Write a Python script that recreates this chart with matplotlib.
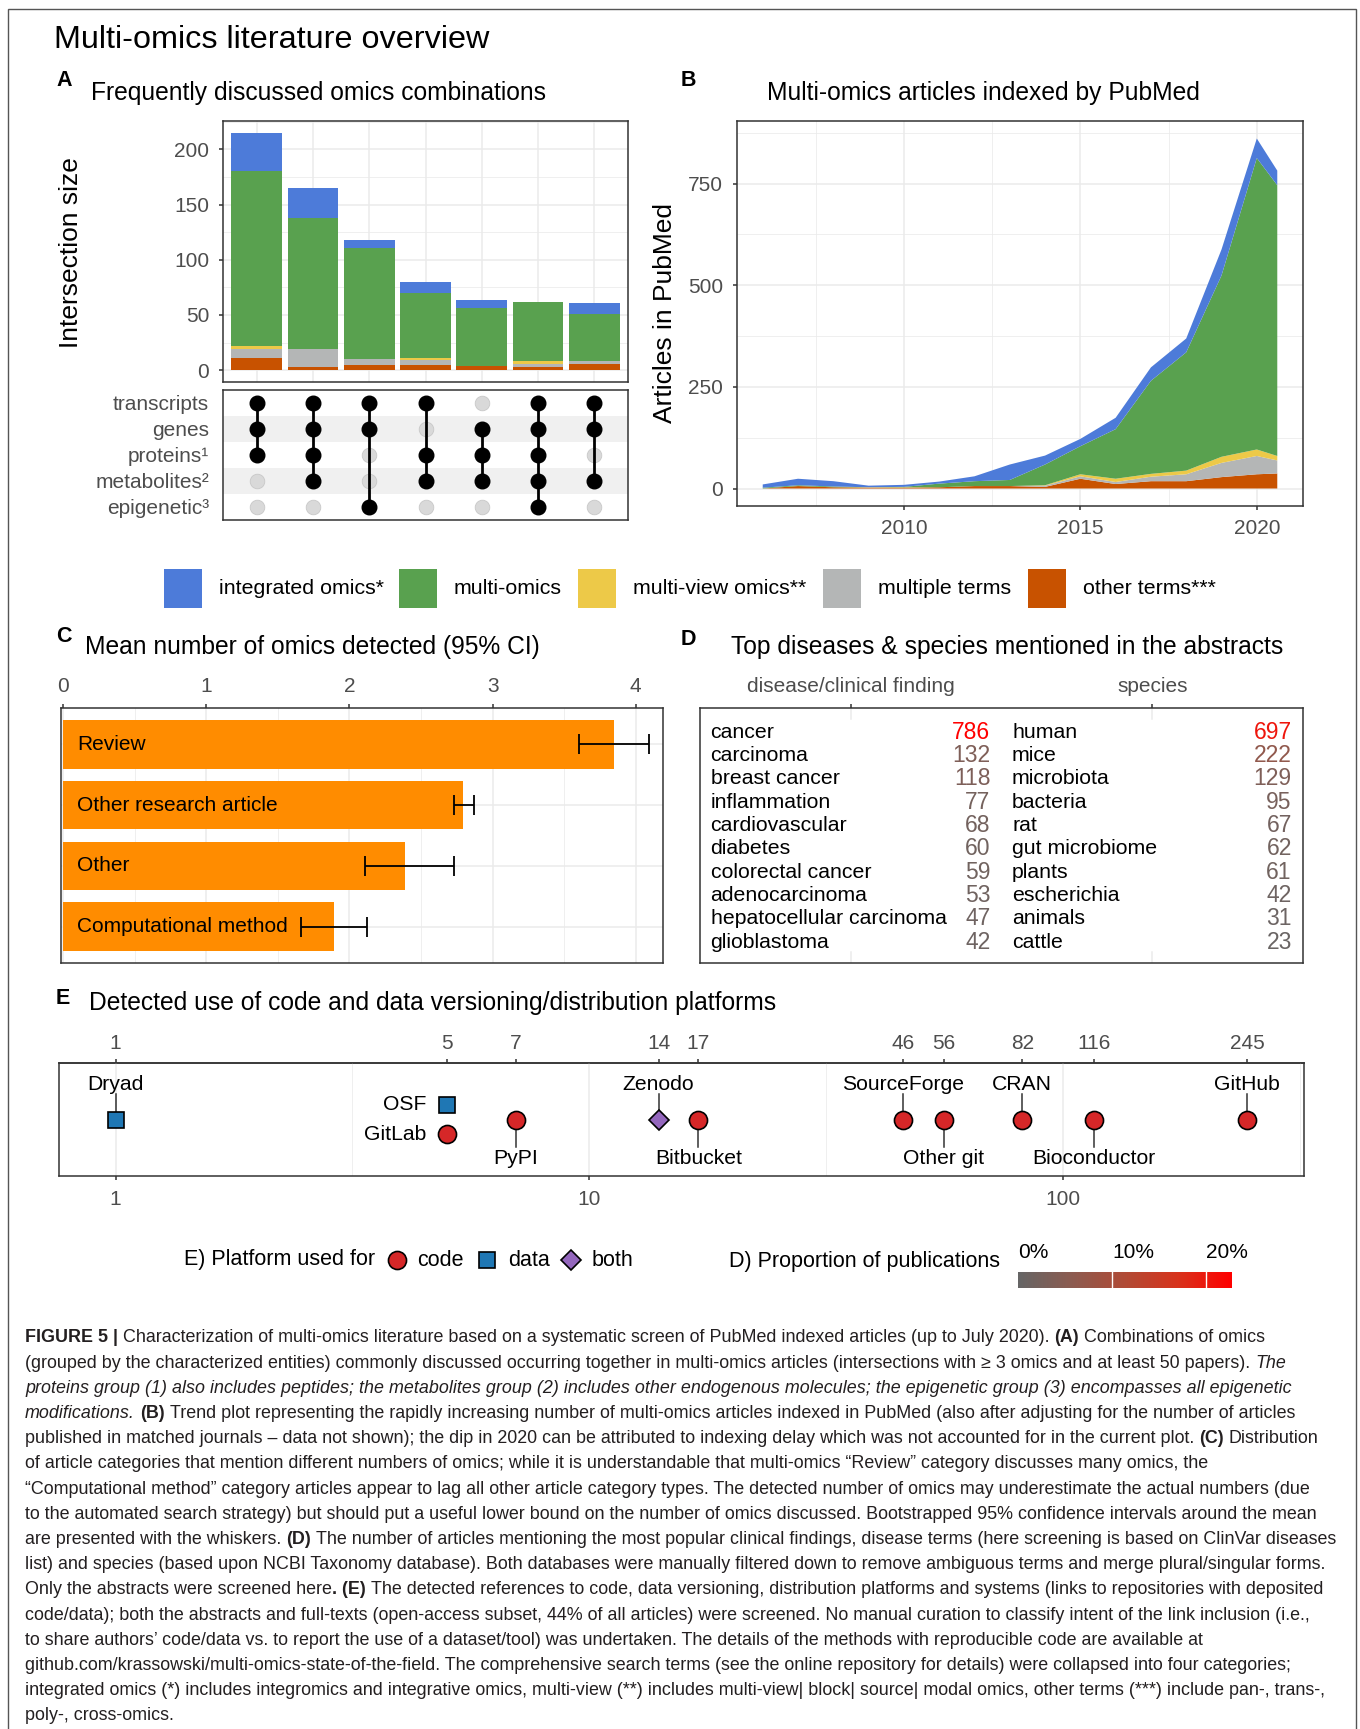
import matplotlib

matplotlib.use("Agg")
import matplotlib.pyplot as plt
import matplotlib.transforms as mtransforms
import numpy as np
from matplotlib.colors import LinearSegmentedColormap, Normalize
from matplotlib.lines import Line2D
from matplotlib.patches import Rectangle
from matplotlib.ticker import FixedLocator, NullFormatter, NullLocator

W, H = 1360, 1729

# ---------------------------------------------------------------- data
TERMS = ["integrated omics*", "multi-omics", "multi-view omics**", "multiple terms", "other terms***"]
TERM_COLORS = ["#4D7BD9", "#59A14F", "#EDC948", "#B4B6B6", "#C85200"]

# A) frequently discussed omics combinations
OMICS_SETS = ["transcripts", "genes", "proteins¹", "metabolites²", "epigenetic³"]
COMBINATIONS = [
    ["transcripts", "genes", "proteins¹"],
    ["transcripts", "genes", "proteins¹", "metabolites²"],
    ["transcripts", "genes", "epigenetic³"],
    ["transcripts", "proteins¹", "metabolites²"],
    ["genes", "proteins¹", "metabolites²"],
    ["transcripts", "genes", "proteins¹", "metabolites²", "epigenetic³"],
    ["transcripts", "genes", "metabolites²"],
]
A_INTEGRATED = [35, 27, 7, 10, 8, 0, 10]
A_MULTI_OMICS = [158, 119, 101, 59, 52, 54, 43]
A_MULTI_VIEW = [3, 0, 0, 2, 0, 2, 0]
A_MULTIPLE = [8, 16, 5, 4, 0, 3, 2]
A_OTHER = [11, 3, 5, 5, 4, 3, 6]

# B) articles per year (last point = partial 2020)
YEARS = [2006, 2007, 2008, 2009, 2010, 2011, 2012, 2013, 2014, 2015, 2016, 2017, 2018, 2019, 2020, 2020.58]
B_INTEGRATED = [8, 16, 13, 4, 5, 5, 12, 38, 22, 18, 28, 33, 34, 64, 48, 36]
B_MULTI_OMICS = [2, 2, 2, 0, 1, 9, 12, 15, 51, 69, 122, 229, 291, 446, 717, 666]
B_MULTI_VIEW = [0, 0, 0, 1, 1, 0, 0, 0, 1, 5, 8, 7, 9, 15, 16, 11]
B_MULTIPLE = [0, 0, 0, 0, 0, 0, 0, 0, 3, 6, 5, 11, 17, 35, 45, 32]
B_OTHER = [0, 6, 3, 2, 2, 3, 6, 6, 4, 24, 11, 18, 18, 28, 35, 37]

# C) mean number of omics detected
ARTICLE_TYPES = ["Review", "Other research article", "Other", "Computational method"]
OMICS_MEAN = [3.85, 2.79, 2.39, 1.89]
OMICS_CI_LOW = [3.60, 2.73, 2.11, 1.66]
OMICS_CI_HIGH = [4.09, 2.87, 2.73, 2.12]

# D) top diseases and species
D_GROUPS = ["disease/clinical finding", "species"]
DISEASES = ["cancer", "carcinoma", "breast cancer", "inflammation", "cardiovascular", "diabetes",
            "colorectal cancer", "adenocarcinoma", "hepatocellular carcinoma", "glioblastoma"]
DISEASE_COUNTS = [786, 132, 118, 77, 68, 60, 59, 53, 47, 42]
SPECIES = ["human", "mice", "microbiota", "bacteria", "rat", "gut microbiome", "plants",
           "escherichia", "animals", "cattle"]
SPECIES_COUNTS = [697, 222, 129, 95, 67, 62, 61, 42, 31, 23]
N_ABSTRACTS = 3450  # estimated denominator for the proportion colour scale

# E) code / data platforms
PLATFORMS = ["Dryad", "OSF", "GitLab", "PyPI", "Zenodo", "Bitbucket", "SourceForge",
             "Other git", "CRAN", "Bioconductor", "GitHub"]
PLATFORM_COUNTS = [1, 5, 5, 7, 14, 17, 46, 56, 82, 116, 245]
PLATFORM_USE = ["data", "data", "code", "code", "both", "code", "code", "code", "code", "code", "code"]

CAPTION = [
    [("b", "FIGURE 5 |"), ("n", "Characterization of multi-omics literature based on a systematic screen of PubMed indexed articles (up to July 2020)."), ("b", "(A)"), ("n", "Combinations of omics")],
    [("n", "(grouped by the characterized entities) commonly discussed occurring together in multi-omics articles (intersections with ≥ 3 omics and at least 50 papers)."), ("i", "The")],
    [("i", "proteins group (1) also includes peptides; the metabolites group (2) includes other endogenous molecules; the epigenetic group (3) encompasses all epigenetic")],
    [("i", "modifications."), ("b", "(B)"), ("n", "Trend plot representing the rapidly increasing number of multi-omics articles indexed in PubMed (also after adjusting for the number of articles")],
    [("n", "published in matched journals – data not shown); the dip in 2020 can be attributed to indexing delay which was not accounted for in the current plot."), ("b", "(C)"), ("n", "Distribution")],
    [("n", "of article categories that mention different numbers of omics; while it is understandable that multi-omics “Review” category discusses many omics, the")],
    [("n", "“Computational method” category articles appear to lag all other article category types. The detected number of omics may underestimate the actual numbers (due")],
    [("n", "to the automated search strategy) but should put a useful lower bound on the number of omics discussed. Bootstrapped 95% confidence intervals around the mean")],
    [("n", "are presented with the whiskers."), ("b", "(D)"), ("n", "The number of articles mentioning the most popular clinical findings, disease terms (here screening is based on ClinVar diseases")],
    [("n", "list) and species (based upon NCBI Taxonomy database). Both databases were manually filtered down to remove ambiguous terms and merge plural/singular forms.")],
    [("n", "Only the abstracts were screened here"), ("b", ". (E)"), ("n", "The detected references to code, data versioning, distribution platforms and systems (links to repositories with deposited")],
    [("n", "code/data); both the abstracts and full-texts (open-access subset, 44% of all articles) were screened. No manual curation to classify intent of the link inclusion (i.e.,")],
    [("n", "to share authors’ code/data vs. to report the use of a dataset/tool) was undertaken. The details of the methods with reproducible code are available at")],
    [("n", "github.com/krassowski/multi-omics-state-of-the-field. The comprehensive search terms (see the online repository for details) were collapsed into four categories;")],
    [("n", "integrated omics (*) includes integromics and integrative omics, multi-view (**) includes multi-view| block| source| modal omics, other terms (***) include pan-, trans-,")],
    [("n", "poly-, cross-omics.")],
]

# ---------------------------------------------------------------- style
plt.rcParams.update({
    "font.family": ["Liberation Sans", "DejaVu Sans"],
    "axes.edgecolor": "#333333",
    "axes.linewidth": 1.1,
    "xtick.color": "#333333",
    "ytick.color": "#333333",
    "xtick.labelcolor": "#4D4D4D",
    "ytick.labelcolor": "#4D4D4D",
    "xtick.labelsize": 15,
    "ytick.labelsize": 15,
    "xtick.major.size": 3,
    "ytick.major.size": 3,
    "xtick.major.width": 1.1,
    "ytick.major.width": 1.1,
})
GRID = "#EBEBEB"
TITLE_SIZE = 17.7
TAG_SIZE = 15.5
CODE_STYLE = {"code": dict(marker="o", color="#D62728", ms=13),
              "data": dict(marker="s", color="#1F77B4", ms=11),
              "both": dict(marker="D", color="#9467BD", ms=10)}

fig = plt.figure(figsize=(W / 100, H / 100), dpi=100)


def px_axes(left, top, right, bottom):
    return fig.add_axes([left / W, 1 - bottom / H, (right - left) / W, (bottom - top) / H])


def ftext(x, y, s, **kw):
    kw.setdefault("va", "center")
    return fig.text(x / W, 1 - y / H, s, **kw)


def bw_grid(ax, axis="both"):
    ax.set_axisbelow(True)
    ax.grid(True, which="major", axis=axis, color=GRID, linewidth=1.1)
    ax.grid(True, which="minor", axis=axis, color=GRID, linewidth=0.55)
    ax.tick_params(which="minor", length=0)


# ---------------------------------------------------------------- titles
ftext(54, 40, "Multi-omics literature overview", fontsize=23.3)
ftext(56, 81, "A", fontsize=TAG_SIZE, fontweight="bold")
ftext(91, 93, "Frequently discussed omics combinations", fontsize=TITLE_SIZE)
ftext(681, 80, "B", fontsize=TAG_SIZE, fontweight="bold")
ftext(767, 93, "Multi-omics articles indexed by PubMed", fontsize=TITLE_SIZE)

# ---------------------------------------------------------------- A bars
axA = px_axes(223, 121, 628, 382)
xs = np.arange(1, len(COMBINATIONS) + 1)
bottom = np.zeros(len(xs))
stack_a = [A_OTHER, A_MULTIPLE, A_MULTI_VIEW, A_MULTI_OMICS, A_INTEGRATED]
for vals, col in zip(stack_a, TERM_COLORS[::-1]):
    axA.bar(xs, vals, width=0.9, bottom=bottom, color=col, linewidth=0, zorder=2)
    bottom += np.array(vals)
axA.set_xlim(0.4, len(xs) + 0.6)
axA.set_ylim(-0.05 * bottom.max(), 1.05 * bottom.max())
axA.set_yticks([0, 50, 100, 150, 200])
axA.yaxis.set_minor_locator(FixedLocator([25, 75, 125, 175, 225]))
axA.set_xticks(xs)
axA.tick_params(axis="x", length=0, labelbottom=False)
axA.tick_params(axis="y", pad=7)
bw_grid(axA)
ftext(71, 253, "Intersection size", fontsize=19, rotation=90, ha="center")

# ---------------------------------------------------------------- A matrix
axM = px_axes(223, 390, 628, 520)
axM.set_xlim(0.4, len(xs) + 0.6)
axM.set_ylim(len(OMICS_SETS) + 0.5, 0.5)
for r in (2, 4):
    axM.axhspan(r - 0.5, r + 0.5, color="#F0F0F0", lw=0, zorder=0)
for j, combo in enumerate(COMBINATIONS, start=1):
    active = [OMICS_SETS.index(s) + 1 for s in combo]
    inactive = [i for i in range(1, len(OMICS_SETS) + 1) if i not in active]
    axM.plot([j] * len(inactive), inactive, "o", ms=10.5, color="#D9D9D9", mec="#C8C8C8", mew=0.6, zorder=2)
    axM.plot([j, j], [min(active), max(active)], color="black", lw=2, zorder=3)
    axM.plot([j] * len(active), active, "o", ms=10.5, color="black", zorder=4)
axM.set_yticks(range(1, len(OMICS_SETS) + 1), labels=OMICS_SETS)
axM.set_xticks([])
axM.tick_params(axis="y", length=0, pad=10)

# ---------------------------------------------------------------- B
axB = px_axes(737, 121, 1303, 506)
axB.stackplot(YEARS, B_OTHER, B_MULTIPLE, B_MULTI_VIEW, B_MULTI_OMICS, B_INTEGRATED,
              colors=TERM_COLORS[::-1], linewidth=0)
totals = np.sum([B_OTHER, B_MULTIPLE, B_MULTI_VIEW, B_MULTI_OMICS, B_INTEGRATED], axis=0)
span = YEARS[-1] - YEARS[0]
axB.set_xlim(YEARS[0] - 0.05 * span, YEARS[-1] + 0.05 * span)
axB.set_ylim(-0.05 * totals.max(), 1.05 * totals.max())
axB.set_xticks([2010, 2015, 2020])
axB.xaxis.set_minor_locator(FixedLocator([2007.5, 2012.5, 2017.5]))
axB.set_yticks([0, 250, 500, 750])
axB.yaxis.set_minor_locator(FixedLocator([125, 375, 625, 875]))
axB.tick_params(axis="x", pad=6)
axB.tick_params(axis="y", pad=7)
bw_grid(axB)
ftext(665, 313, "Articles in PubMed", fontsize=19, rotation=90, ha="center")

# ---------------------------------------------------------------- term legend
LEGEND_X = [164, 399, 578, 823, 1028]
for lx, term, col in zip(LEGEND_X, TERMS, TERM_COLORS):
    fig.add_artist(Rectangle((lx / W, 1 - 608 / H), 38 / W, 39 / H, transform=fig.transFigure,
                             facecolor=col, edgecolor="none"))
    ftext(lx + 55, 589, term, fontsize=15.4)

# ---------------------------------------------------------------- C
ftext(56, 637, "C", fontsize=TAG_SIZE, fontweight="bold")
ftext(85, 647, "Mean number of omics detected (95% CI)", fontsize=TITLE_SIZE)
axC = px_axes(61, 708, 663, 963)
yc = np.arange(1, len(ARTICLE_TYPES) + 1)
mean = np.array(OMICS_MEAN)
axC.barh(yc, mean, height=0.8, color="#FF8C00", zorder=2)
axC.errorbar(mean, yc, xerr=[mean - np.array(OMICS_CI_LOW), np.array(OMICS_CI_HIGH) - mean],
             fmt="none", ecolor="black", elinewidth=1.3, capsize=7.5, capthick=1.3, zorder=3)
for y, name in zip(yc, ARTICLE_TYPES):
    axC.text(0.1, y, name, fontsize=15, va="center", ha="left", color="black", zorder=4)
axC.set_xlim(-0.015, 4.19)
axC.set_ylim(len(ARTICLE_TYPES) + 0.6, 0.4)
axC.xaxis.tick_top()
axC.set_xticks([0, 1, 2, 3, 4])
axC.xaxis.set_minor_locator(FixedLocator([0.5, 1.5, 2.5, 3.5]))
axC.set_yticks(yc)
axC.tick_params(axis="y", length=0, labelleft=False)
axC.tick_params(axis="x", pad=6)
bw_grid(axC)

# ---------------------------------------------------------------- D
ftext(681, 639, "D", fontsize=TAG_SIZE, fontweight="bold")
ftext(731, 647, "Top diseases & species mentioned in the abstracts", fontsize=TITLE_SIZE)
axD = px_axes(700, 708, 1303, 963)
axD.set_xlim(0.5, 2.5)
axD.set_ylim(10.9, -0.03)
axD.xaxis.tick_top()
axD.set_xticks([1, 2], labels=D_GROUPS)
axD.set_yticks([])
axD.tick_params(axis="x", pad=6)
for gx in (1, 2):
    axD.axvline(gx, ymin=0, ymax=0.045, color=GRID, lw=1.1)
    axD.axvline(gx, ymin=0.955, ymax=1, color=GRID, lw=1.1)

all_props = np.array(DISEASE_COUNTS + SPECIES_COUNTS) / N_ABSTRACTS
prop_norm = Normalize(0, all_props.max())
prop_cmap = LinearSegmentedColormap.from_list(
    "grey_red", ["#666666", "#8C5B50", "#B14B36", "#D8331C", "#FF0000"])
for gx, names, counts in ((1, DISEASES, DISEASE_COUNTS), (2, SPECIES, SPECIES_COUNTS)):
    for row, (name, cnt) in enumerate(zip(names, counts), start=1):
        axD.text(gx - 0.465, row, name, fontsize=15.3, ha="left", va="center", color="black")
        axD.text(gx + 0.463, row, str(cnt), fontsize=16.5, ha="right", va="center",
                 color=prop_cmap(prop_norm(cnt / N_ABSTRACTS)))

# ---------------------------------------------------------------- E
ftext(56, 999, "E", fontsize=TAG_SIZE, fontweight="bold")
ftext(89, 1003, "Detected use of code and data versioning/distribution platforms", fontsize=TITLE_SIZE)
axE = px_axes(59, 1063, 1304, 1176)
axE.set_xscale("log")
lo, hi = np.log10(min(PLATFORM_COUNTS)), np.log10(max(PLATFORM_COUNTS))
pad = 0.05 * (hi - lo)
axE.set_xlim(10 ** (lo - pad), 10 ** (hi + pad))
axE.set_ylim(1176, 1063)  # vertical layout in figure pixel rows
axE.set_yticks([])
axE.xaxis.set_major_locator(FixedLocator([1, 10, 100]))
axE.set_xticks([1, 10, 100], labels=["1", "10", "100"])
axE.xaxis.set_minor_locator(FixedLocator([10 ** 0.5, 10 ** 1.5, 10 ** 2.5]))
axE.xaxis.set_minor_formatter(NullFormatter())
axE.tick_params(axis="x", pad=7)
bw_grid(axE, axis="x")
secE = axE.secondary_xaxis("top")
top_vals = sorted(set(PLATFORM_COUNTS))
secE.set_xticks(top_vals, labels=[str(v) for v in top_vals])
secE.xaxis.set_minor_locator(NullLocator())
secE.tick_params(axis="x", pad=4)

LABEL_SIDE = {"Dryad": "above", "OSF": "left-high", "GitLab": "left-low", "PyPI": "below",
              "Zenodo": "above", "Bitbucket": "below", "SourceForge": "above",
              "Other git": "below", "CRAN": "above", "Bioconductor": "below", "GitHub": "above"}
ROW_Y = {"above": 1120, "below": 1120, "left-high": 1105, "left-low": 1134}
for name, cnt, use in zip(PLATFORMS, PLATFORM_COUNTS, PLATFORM_USE):
    side = LABEL_SIDE[name]
    py = ROW_Y[side]
    st = CODE_STYLE[use]
    if side == "above":
        axE.plot([cnt, cnt], [1094, py], color="#333333", lw=1.1, zorder=2)
        axE.text(cnt, 1084, name, fontsize=15.2, ha="center", va="center")
    elif side == "below":
        axE.plot([cnt, cnt], [py, 1147], color="#333333", lw=1.1, zorder=2)
        axE.text(cnt, 1158, name, fontsize=15.2, ha="center", va="center")
    else:
        axE.annotate(name, (cnt, py), xytext=(-15, 0), textcoords="offset points",
                     fontsize=15.2, ha="right", va="center")
    axE.plot(cnt, py, linestyle="none", marker=st["marker"], ms=st["ms"],
             markerfacecolor=st["color"], markeredgecolor="black", markeredgewidth=1.2, zorder=4)

# ---------------------------------------------------------------- bottom legends
ftext(184, 1260, "E) Platform used for", fontsize=15.5)
for mx, tx, use in ((397, 417, "code"), (487, 508, "data"), (571, 592, "both")):
    st = CODE_STYLE[use]
    fig.add_artist(Line2D([mx / W], [1 - 1260 / H], transform=fig.transFigure, linestyle="none",
                          marker=st["marker"], ms=st["ms"], markerfacecolor=st["color"],
                          markeredgecolor="black", markeredgewidth=1.2))
    ftext(tx, 1260, use, fontsize=15.5)

ftext(729, 1262, "D) Proportion of publications", fontsize=15.5)
axCB = px_axes(1018, 1272, 1232, 1288)
pmax = all_props.max()
axCB.imshow(np.linspace(0, pmax, 256)[None, :], cmap=prop_cmap, norm=prop_norm,
            extent=[0, pmax, 0, 1], aspect="auto")
axCB.set_xlim(0, pmax)
axCB.set_ylim(0, 1)
axCB.axis("off")
cb_trans = mtransforms.blended_transform_factory(axCB.transData, axCB.transAxes)
for v in (0.1, 0.2):
    axCB.axvline(v, color="white", lw=1.0)
for v in (0.0, 0.1, 0.2):
    axCB.text(v, 2.2, f"{v:.0%}", transform=cb_trans, ha="left", va="center",
              fontsize=15, color="black")

# ---------------------------------------------------------------- caption
CAP_FAMILY = ["Liberation Sans", "DejaVu Sans"]
renderer = fig.canvas.get_renderer()


def seg_kw(style, size):
    return dict(fontsize=size, family=CAP_FAMILY, color="#231F20",
                fontweight="bold" if style == "b" else "normal",
                fontstyle="italic" if style == "i" else "normal")


def measure(text, style, size):
    t = fig.text(0, 0, text, **seg_kw(style, size))
    w = t.get_window_extent(renderer).width
    t.remove()
    return w


def line_width(segs, size):
    space = measure("a a", "n", size) - measure("aa", "n", size)
    total = 0.0
    for k, (style, text) in enumerate(segs):
        if k > 0 and not text.startswith("."):
            total += space
        total += measure(text, style, size)
    return total


ref_size = 12.0
widest = max(line_width(segs, ref_size) for segs in CAPTION)
cap_size = ref_size * 1315 / widest
cap_space = measure("a a", "n", cap_size) - measure("aa", "n", cap_size)
for i, segs in enumerate(CAPTION):
    y = 1338 + 25.2 * i
    x = 25.0
    for k, (style, text) in enumerate(segs):
        if k > 0 and not text.startswith("."):
            x += cap_space
        t = ftext(x, y, text, ha="left", **seg_kw(style, cap_size))
        x += t.get_window_extent(renderer).width

# ---------------------------------------------------------------- frame
fig.add_artist(Rectangle((8 / W, -0.01), (1356 - 8) / W, 1.01 - 9 / H, transform=fig.transFigure,
                         fill=False, edgecolor="#555555", linewidth=1.0))

fig.savefig("out.png", dpi=100)
